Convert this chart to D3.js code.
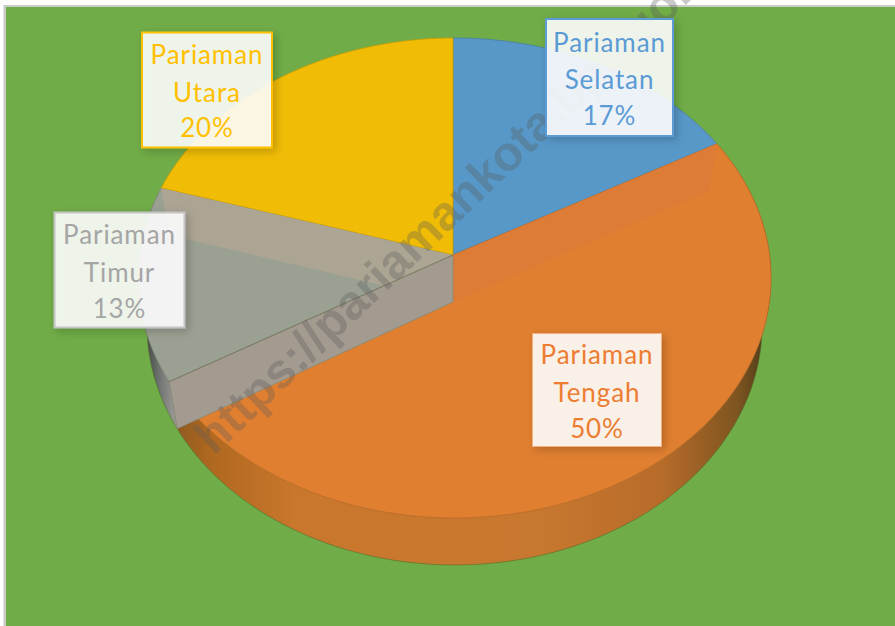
<!DOCTYPE html>
<html><head><meta charset="utf-8">
<script src="https://cdn.jsdelivr.net/npm/d3@7/dist/d3.min.js"></script>
<style>html,body{margin:0;padding:0;background:#fff;overflow:hidden}svg{display:block}</style>
</head><body><svg id="c" width="895" height="626"></svg>
<script>
const categories = ["Pariaman Selatan","Pariaman Tengah","Pariaman Timur","Pariaman Utara"];
const shares = [16.9,49.6,13.2,20.3];
const faceColors = ["#5798c8","#e07f30","#9aa192","#f0bc06"];
const textColors = ["#5b9bd5","#ed7d31","#a5a5a5","#ffc000"];
const borderColors = ["#5b9bd5","#f4b183","#c4c4c4","#ffc000"];
const watermark = "https://pariamankota.bps.go.id";

const W=895,H=626;
const svg=d3.select("#c");
const defs=svg.append("defs");
const f=defs.append("filter").attr("id","sh").attr("x","-20%").attr("y","-20%").attr("width","150%").attr("height","150%");
f.append("feDropShadow").attr("dx",3).attr("dy",3).attr("stdDeviation",4).attr("flood-color","#000").attr("flood-opacity",.22);

// perspective projection of the unit pie disc
const cx=453,cy=255,a=315,b=237.8,k=0.0958,m=0.005,depth=47,shrink=0.972;
function proj(t,d=0){
  const X=Math.sin(t),Y=-Math.cos(t),w=1-k*Y-m*X;
  const s=d?shrink:1;
  return [cx+s*a*X/w,cy+b*Y/w+d];
}
const arcs=d3.pie().sort(null).value(d=>d)(shares);
const line=d3.line();
const arcPts=(s,e,d=0)=>d3.range(0,101).map(i=>proj(s+(e-s)*i/100,d));

svg.append("rect").attr("width",W).attr("height",H).attr("fill","#fff");
svg.append("rect").attr("x",3.5).attr("y",5).attr("width",W).attr("height",H).attr("fill","#c9cbc6");
svg.append("rect").attr("x",6).attr("y",7).attr("width",W).attr("height",H).attr("fill","#70ac47");

function grad(id,stops,x1,x2){
  const g=defs.append("linearGradient").attr("id",id).attr("gradientUnits","userSpaceOnUse").attr("x1",x1).attr("x2",x2).attr("y1",0).attr("y2",0);
  stops.forEach(s=>g.append("stop").attr("offset",s[0]).attr("stop-color",s[1]));
}
grad("rimO",[[0,"#8d5a22"],[.06,"#b0681f"],[.2,"#c8772c"],[.6,"#c9782f"],[.82,"#b86c2a"],[.95,"#7d5420"],[1,"#4a3a18"]],175,768);
grad("rimG",[[0,"#3e4340"],[.45,"#6f7370"],[1,"#a3a09c"]],144,178);

// rim
const rimFill=["none","url(#rimO)","url(#rimG)","none"];
arcs.forEach((s,i)=>{
  if(rimFill[i]==="none")return;
  const pts=arcPts(s.startAngle,s.endAngle).concat(arcPts(s.startAngle,s.endAngle,depth).reverse());
  svg.append("path").attr("d",line(pts)+"Z").attr("fill",rimFill[i]);
});
// bottom rim outline
svg.append("path").attr("d",line(arcPts(arcs[1].startAngle+.55,arcs[2].endAngle-.3,depth))).attr("fill","none").attr("stroke","#4f6b2a").attr("stroke-width",.8).attr("opacity",.7);

// top faces
const facePath=s=>line([[cx,cy]].concat(arcPts(s.startAngle,s.endAngle)))+"Z";
arcs.forEach((s,i)=>{
  svg.append("path").attr("d",facePath(s)).attr("fill",faceColors[i]).attr("stroke",d3.color(faceColors[i]).darker(.5)).attr("stroke-width",.8).attr("stroke-linejoin","round");
});
// inner walls seen through the translucent faces
const wallPts=t=>[[cx,cy],proj(t),proj(t,depth),[cx,cy+depth]];
defs.append("clipPath").attr("id","cg").append("path").attr("d",facePath(arcs[2]));
defs.append("clipPath").attr("id","co").append("path").attr("d",facePath(arcs[1]));
svg.append("path").attr("d",line(wallPts(arcs[2].endAngle))+"Z").attr("fill","#aca594").attr("clip-path","url(#cg)");
svg.append("path").attr("d",line(wallPts(arcs[1].startAngle))+"Z").attr("fill","#dd7c36").attr("clip-path","url(#co)");
// front wall of the gray slice
svg.append("path").attr("d",line(wallPts(arcs[2].startAngle))+"Z").attr("fill","#a39a90").attr("stroke","#7f8a78").attr("stroke-width",.7);
const p=proj(arcs[2].startAngle);
svg.append("path").attr("d",line([[cx,cy],p])).attr("stroke","#7d7a60").attr("stroke-width",.9).attr("fill","none");

// watermark
svg.append("text").text(watermark).attr("transform","translate(214,456) rotate(-43.7)")
  .attr("font-family","Liberation Sans").attr("font-weight","bold").attr("font-size",48.5)
  .attr("fill","#5a5a5a").attr("fill-opacity",.32);

// labels
const labelBoxes=[[546,19,127,117],[532.5,333.5,129,113],[54.5,212.5,130,115],[142,32.5,130,115]];
const lineOffsets=[[24,61,97],[21,59,95],[22,60,96],[22,60,95]];
categories.forEach((c,i)=>{
  const [x,y,w,h]=labelBoxes[i];
  const g=svg.append("g");
  g.append("rect").attr("x",x).attr("y",y).attr("width",w).attr("height",h)
    .attr("fill","#fff").attr("fill-opacity",.88).attr("stroke",borderColors[i]).attr("stroke-width",i===1?1:2).attr("filter","url(#sh)");
  const parts=c.split(" ").concat(d3.format(".0%")(shares[i]/100));
  parts.forEach((t,j)=>g.append("text").text(t).attr("x",x+w/2).attr("y",y+lineOffsets[i][j]).attr("dy","0.35em")
    .attr("text-anchor","middle").attr("font-family","Lato").attr("font-size",26).attr("letter-spacing",.9).attr("fill",textColors[i]));
});
</script></body></html>
